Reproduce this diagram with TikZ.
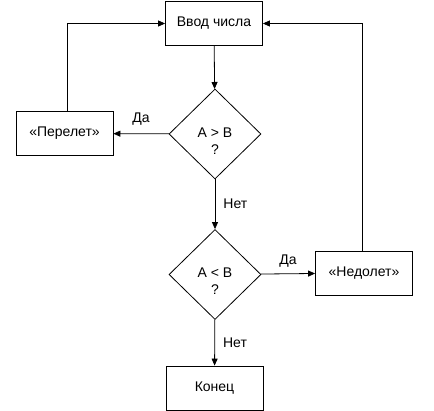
\documentclass[tikz,border=0pt]{standalone}
\usepackage{fontspec}
\setmainfont{Liberation Sans}
\usetikzlibrary{arrows.meta,shapes.geometric}
\begin{document}
\begin{tikzpicture}[x=1pt,y=-1pt,
  every node/.style={font=\fontsize{14}{16}\selectfont},
  box/.style={draw,line width=0.8pt,minimum width=97pt,minimum height=44pt,inner sep=0pt},
  dec/.style={draw,diamond,line width=0.8pt,minimum width=92pt,minimum height=90pt,inner sep=0pt},
  dtext/.style={align=center,inner sep=0pt,font=\fontsize{14}{17}\selectfont},
  arr/.style={line width=0.8pt,-{Triangle[length=7pt,width=6pt]}},
  lab/.style={inner sep=0pt}]
\useasboundingbox (0,0) rectangle (434,411);
\node[box] (in) at (214,23.5) {Ввод числа};
\node[dec] (d1) at (215,134) {};
\node[dtext] (d1t) at (215,141) {A > B\\?};
\node[box] (over) at (64.5,133.5) {«Перелет»};
\node[dec] (d2) at (215,274.5) {};
\node[dtext] (d2t) at (215,281) {A < B\\?};
\node[box] (under) at (364,273) {«Недолет»};
\node[box] (end) at (214.5,388) {Конец};
\coordinate (c1) at (67,23.5);
\coordinate (c2) at (362,23.5);
\draw[arr] (in) -- (d1);
\draw[arr] (d1) -- node[lab,above=8pt] {Да} (over);
\draw[arr] (over.north -| c1) -- (c1) -- (in);
\draw[arr] (d1) -- node[lab,right=8pt] {Нет} (d2);
\draw[arr] (d2) -- node[lab,above=6pt] {Да} (under);
\draw[arr] (under.north -| c2) -- (c2) -- (in);
\draw[arr] (d2) -- node[lab,right=8pt] {Нет} (end);
\end{tikzpicture}
\end{document}
